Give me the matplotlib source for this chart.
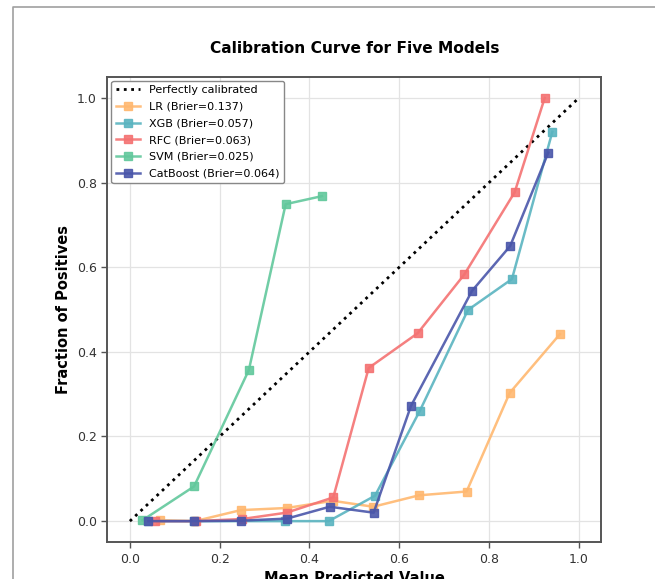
import matplotlib.pyplot as plt
from matplotlib.lines import Line2D

# Data
models = ["LR", "XGB", "RFC", "SVM", "CatBoost"]
brier = [0.137, 0.057, 0.063, 0.025, 0.064]
colors = ["#ffb870", "#5ab4c0", "#f47272", "#62c89c", "#4a56aa"]

lr_x = [0.067, 0.145, 0.247, 0.349, 0.452, 0.542, 0.644, 0.750, 0.846, 0.958]
lr_y = [0.002, 0.0, 0.026, 0.031, 0.048, 0.034, 0.061, 0.070, 0.303, 0.442]

xgb_x = [0.040, 0.143, 0.345, 0.443, 0.546, 0.646, 0.753, 0.851, 0.941]
xgb_y = [0.0, 0.0, 0.0, 0.0, 0.060, 0.261, 0.499, 0.572, 0.920]

rfc_x = [0.056, 0.147, 0.250, 0.349, 0.453, 0.532, 0.641, 0.745, 0.857, 0.924]
rfc_y = [0.0, 0.0, 0.005, 0.020, 0.056, 0.362, 0.444, 0.583, 0.777, 1.0]

svm_x = [0.028, 0.143, 0.265, 0.347, 0.428]
svm_y = [0.002, 0.082, 0.357, 0.749, 0.768]

cat_x = [0.041, 0.143, 0.247, 0.350, 0.445, 0.543, 0.626, 0.762, 0.847, 0.932]
cat_y = [0.0, 0.0, 0.001, 0.006, 0.034, 0.020, 0.272, 0.544, 0.650, 0.871]

xs = [lr_x, xgb_x, rfc_x, svm_x, cat_x]
ys = [lr_y, xgb_y, rfc_y, svm_y, cat_y]

fig = plt.figure(figsize=(6.55, 5.79), dpi=100)
ax = fig.add_axes([0.164, 0.0634, 0.754, 0.804])

ax.plot([0, 1], [0, 1], "k:", lw=2, label="Perfectly calibrated")
for name, b, c, x, y in zip(models, brier, colors, xs, ys):
    ax.plot(x, y, marker="s", color=c, lw=1.8, markersize=6.3, alpha=0.9,
            label=f"{name} (Brier={b:.3f})")

ax.set_xlim(-0.05, 1.05)
ax.set_ylim(-0.05, 1.05)
ax.grid(True, color="#e3e3e3", lw=0.9)
ax.set_axisbelow(True)
for s in ax.spines.values():
    s.set_color("#555555")
    s.set_linewidth(1.4)
ax.tick_params(colors="#333333", labelsize=9, length=4, width=1, color="#555555")

ax.set_title("Calibration Curve for Five Models", fontsize=11.1, fontweight="bold", pad=17)
ax.set_xlabel("Mean Predicted Value", fontsize=10.5, fontweight="bold")
ax.set_ylabel("Fraction of Positives", fontsize=10.5, fontweight="bold")

ax.legend(loc="upper left", fontsize=8, frameon=True, edgecolor="#888888",
          framealpha=1, borderaxespad=0.35, handlelength=2.2, labelspacing=0.6)

# outer frame line of the cropped screenshot
fig.add_artist(Line2D([13 / 655, 13 / 655, 1], [0, 1 - 7 / 579, 1 - 7 / 579],
                      transform=fig.transFigure, color="#a0a0a0", lw=1.2))

fig.savefig("out.png", dpi=100)
